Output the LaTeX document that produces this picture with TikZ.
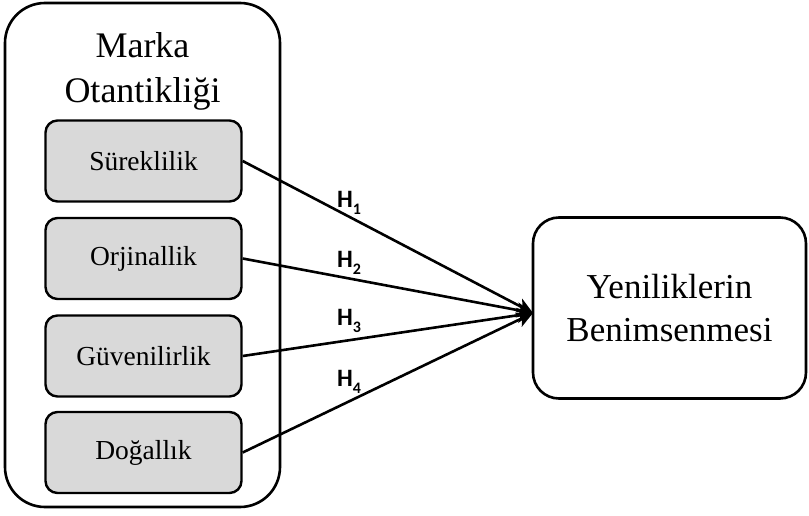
\documentclass[tikz,border=0pt]{standalone}
\usepackage{fontspec}
\setmainfont{Liberation Serif}
\newfontfamily\hfont{Carlito}
\usetikzlibrary{arrows.meta}
\newcommand{\hsub}[1]{\raisebox{-0.3em}{\fontsize{16}{16}\selectfont #1}}
\begin{document}
\begin{tikzpicture}[x=1pt,y=-1pt,
  outerbox/.style={draw=black,line width=2.6pt,rounded corners=40pt},
  dimbox/.style={draw=black,line width=2.4pt,rounded corners=12pt,fill=black!15,
    minimum width=196pt,minimum height=81pt,inner sep=0pt,
    font=\fontsize{27.5}{32}\selectfont,anchor=center},
  targetbox/.style={draw=black,line width=2.6pt,rounded corners=26pt,
    minimum width=273pt,minimum height=181pt,inner sep=0pt,align=center,
    font=\fontsize{35}{43}\selectfont},
  hyp/.style={line width=2.6pt,-{Stealth[length=16pt,width=15pt,inset=4pt]}},
  hlab/.style={font=\hfont\bfseries\fontsize{25}{27}\selectfont,inner sep=0pt}
]
\useasboundingbox (0,0) rectangle (809,516);
\draw[outerbox] (5,3) rectangle (280,507);
\node[font=\fontsize{36}{45}\selectfont,align=center] (title) at (142.5,71) {Marka\\Otantikliği};
\node[dimbox] (s1) at (143.5,161) {Süreklilik};
\node[dimbox] (s2) at (143.5,258.5) {Orjinallik};
\node[dimbox] (s3) at (143.5,356) {Güvenilirlik};
\node[dimbox] (s4) at (143.5,452.5) {Doğallık};
\node[targetbox] (t) at (669.5,308) {Yeniliklerin\\Benimsenmesi};
\coordinate (tip) at (533,313);
\draw[hyp] (s1.east) -- (tip);
\draw[hyp] (s2.east) -- (tip);
\draw[hyp] (s3.east) -- (tip);
\draw[hyp] (s4.east) -- (tip);
\node[hlab] (h1) at (349,203) {H\hsub{1}};
\node[hlab] (h2) at (349,263) {H\hsub{2}};
\node[hlab] (h3) at (349,321) {H\hsub{3}};
\node[hlab] (h4) at (349,382) {H\hsub{4}};
\end{tikzpicture}
\end{document}
